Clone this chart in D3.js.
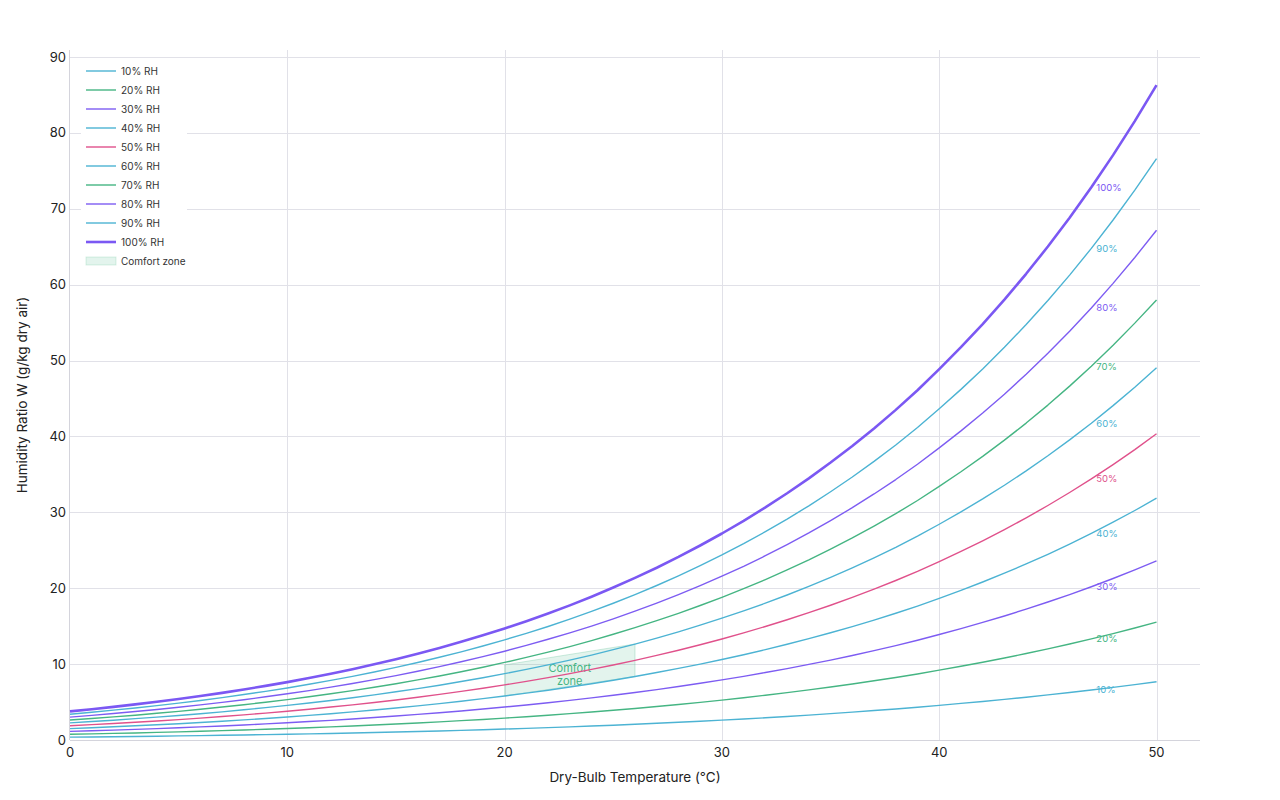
<!DOCTYPE html>
<html>
<head>
<meta charset="utf-8">
<script src="https://cdn.jsdelivr.net/npm/d3@7"></script>
<style>
  html, body { margin: 0; padding: 0; background: #fff; }
  #chart { width: 1280px; height: 800px; }
  text { font-family: Inter, "Noto Sans", sans-serif; }
  .axis-label { font-size: 13.5px; fill: #222; }
  .tick-label { font-size: 13px; fill: #222; }
</style>
</head>
<body>
<div id="chart"></div>
<script>
// Psychrometric chart: humidity ratio (g/kg) vs dry-bulb temperature, RH lines

const temps = d3.range(0, 51); // 0..50 °C, 1° steps

const rh10 = [0.38,0.40,0.43,0.47,0.50,0.54,0.57,0.62,0.66,0.71,0.75,0.81,0.86,0.92,0.98,1.05,1.12,1.19,1.27,1.35,1.44,1.53,1.63,1.73,1.84,1.95,2.07,2.20,2.33,2.47,2.62,2.77,2.93,3.10,3.28,3.47,3.67,3.88,4.09,4.32,4.56,4.82,5.08,5.35,5.64,5.94,6.26,6.59,6.93,7.29,7.67];
const rh20 = [0.75,0.81,0.87,0.93,1.00,1.07,1.15,1.23,1.32,1.41,1.51,1.62,1.73,1.84,1.97,2.10,2.24,2.39,2.55,2.71,2.88,3.07,3.26,3.47,3.69,3.92,4.16,4.41,4.68,4.96,5.26,5.57,5.90,6.24,6.60,6.98,7.38,7.80,8.24,8.70,9.20,9.71,10.24,10.80,11.39,12.00,12.65,13.32,14.02,14.76,15.53];
const rh30 = [1.13,1.21,1.30,1.40,1.50,1.61,1.73,1.85,1.98,2.12,2.27,2.43,2.59,2.77,2.96,3.16,3.37,3.59,3.83,4.08,4.34,4.62,4.91,5.22,5.55,5.89,6.26,6.64,7.05,7.47,7.92,8.39,8.89,9.41,9.96,10.53,11.14,11.77,12.44,13.14,13.90,14.67,15.49,16.34,17.24,18.18,19.16,20.19,21.28,22.41,23.60];
const rh40 = [1.50,1.62,1.74,1.87,2.00,2.15,2.31,2.47,2.65,2.83,3.03,3.24,3.46,3.70,3.95,4.22,4.50,4.80,5.11,5.45,5.80,6.17,6.56,6.98,7.42,7.88,8.37,8.89,9.43,10.00,10.61,11.24,11.91,12.61,13.35,14.13,14.94,15.80,16.70,17.65,18.67,19.72,20.82,21.98,23.20,24.47,25.81,27.22,28.70,30.24,31.86];
const rh50 = [1.88,2.02,2.17,2.34,2.51,2.69,2.88,3.09,3.31,3.54,3.79,4.06,4.34,4.63,4.95,5.28,5.63,6.01,6.40,6.82,7.26,7.73,8.22,8.75,9.30,9.88,10.50,11.15,11.83,12.55,13.31,14.11,14.96,15.84,16.78,17.76,18.79,19.87,21.02,22.22,23.51,24.85,26.25,27.72,29.27,30.90,32.61,34.40,36.29,38.27,40.35];
const rh60 = [2.26,2.43,2.61,2.81,3.01,3.23,3.46,3.71,3.98,4.26,4.56,4.87,5.21,5.57,5.95,6.35,6.77,7.22,7.70,8.20,8.74,9.30,9.90,10.53,11.19,11.90,12.64,13.43,14.25,15.13,16.05,17.01,18.03,19.11,20.24,21.43,22.68,24.00,25.39,26.86,28.43,30.06,31.77,33.57,35.46,37.45,39.54,41.74,44.06,46.49,49.05];
const rh70 = [2.64,2.84,3.05,3.27,3.52,3.77,4.05,4.34,4.65,4.97,5.32,5.69,6.09,6.50,6.95,7.42,7.92,8.44,9.00,9.59,10.22,10.88,11.58,12.31,13.10,13.93,14.80,15.72,16.69,17.72,18.80,19.94,21.14,22.41,23.74,25.15,26.62,28.18,29.82,31.56,33.42,35.35,37.38,39.51,41.76,44.13,46.63,49.25,52.02,54.93,57.99];
const rh80 = [3.02,3.24,3.49,3.75,4.02,4.32,4.63,4.96,5.31,5.69,6.09,6.51,6.97,7.44,7.95,8.49,9.06,9.67,10.31,10.99,11.70,12.46,13.27,14.11,15.01,15.97,16.97,18.03,19.15,20.33,21.58,22.89,24.28,25.74,27.28,28.91,30.61,32.42,34.32,36.33,38.49,40.73,43.09,45.57,48.19,50.95,53.86,56.93,60.17,63.58,67.17];
const rh90 = [3.40,3.65,3.93,4.22,4.53,4.86,5.21,5.59,5.99,6.41,6.86,7.34,7.85,8.39,8.96,9.57,10.21,10.90,11.62,12.39,13.20,14.06,14.96,15.92,16.94,18.02,19.16,20.36,21.63,22.97,24.38,25.87,27.45,29.11,30.86,32.71,34.65,36.71,38.88,41.17,43.64,46.20,48.90,51.74,54.75,57.92,61.26,64.78,68.52,72.45,76.60];
const rh100 = [3.77,4.06,4.36,4.69,5.03,5.40,5.80,6.21,6.66,7.13,7.63,8.16,8.73,9.33,9.97,10.65,11.37,12.13,12.94,13.79,14.70,15.66,16.67,17.74,18.88,20.09,21.36,22.70,24.12,25.63,27.21,28.88,30.65,32.51,34.48,36.56,38.74,41.06,43.50,46.09,48.87,51.76,54.81,58.03,61.43,65.02,68.82,72.83,77.07,81.55,86.29];

const rhLevels = [10, 20, 30, 40, 50, 60, 70, 80, 90, 100];
const rhValues = [rh10, rh20, rh30, rh40, rh50, rh60, rh70, rh80, rh90, rh100];
const rhColors = ["#4cb3d3", "#45b583", "#7d5cf2", "#4cb3d3", "#e0518b", "#4cb3d3", "#45b583", "#7d5cf2", "#4cb3d3", "#7b58f3"];

// comfort zone (20–26 °C)
const comfortT = [20, 26];
const comfortLow = [5.80, 8.37];
const comfortHigh = [9.9, 12.65];

const xTicks = [0, 10, 20, 30, 40, 50];
const yTicks = [0, 10, 20, 30, 40, 50, 60, 70, 80, 90];
const labelT = 47;

const margin = { top: 50, right: 80, bottom: 60, left: 70 };
const width = 1280 - margin.left - margin.right;
const height = 800 - margin.top - margin.bottom;

const svg = d3
  .select("#chart")
  .append("svg")
  .attr("width", 1280)
  .attr("height", 800);

const g = svg
  .append("g")
  .attr("transform", `translate(${margin.left},${margin.top})`);

const x = d3.scaleLinear().domain([0, 52]).range([0, width]);
const y = d3.scaleLinear().domain([0, 90.92]).range([height, 0]);

// Grid
g.append("g")
  .attr("class", "grid")
  .selectAll("line")
  .data(yTicks)
  .join("line")
  .attr("x1", 0)
  .attr("x2", width)
  .attr("y1", (d) => Math.round(y(d)) + 0.5)
  .attr("y2", (d) => Math.round(y(d)) + 0.5)
  .attr("stroke", "#e1e1e8")
  .attr("stroke-width", 1);

g.append("g")
  .attr("class", "grid")
  .selectAll("line")
  .data(xTicks.filter((d) => d > 0))
  .join("line")
  .attr("x1", (d) => Math.round(x(d)) + 0.5)
  .attr("x2", (d) => Math.round(x(d)) + 0.5)
  .attr("y1", 0)
  .attr("y2", height)
  .attr("stroke", "#e1e1e8")
  .attr("stroke-width", 1);

// Axis lines
g.append("line")
  .attr("x1", -0.5).attr("x2", -0.5)
  .attr("y1", 0).attr("y2", height)
  .attr("stroke", "#d4d4dc");
g.append("line")
  .attr("x1", 0).attr("x2", width)
  .attr("y1", height + 0.5).attr("y2", height + 0.5)
  .attr("stroke", "#d4d4dc");

// Tick labels
g.selectAll(".x-tick")
  .data(xTicks)
  .join("text")
  .attr("class", "tick-label")
  .attr("x", (d) => x(d))
  .attr("y", height + 17)
  .attr("text-anchor", "middle")
  .text((d) => d);

g.selectAll(".y-tick")
  .data(yTicks)
  .join("text")
  .attr("class", "tick-label")
  .attr("x", -4)
  .attr("y", (d) => y(d))
  .attr("dy", "0.35em")
  .attr("text-anchor", "end")
  .text((d) => d);

// Comfort zone
const comfortData = comfortT.map((t, i) => ({ t, lo: comfortLow[i], hi: comfortHigh[i] }));
g.append("path")
  .datum(comfortData)
  .attr("fill", "#45b583")
  .attr("fill-opacity", 0.15)
  .attr("stroke", "#45b583")
  .attr("stroke-opacity", 0.25)
  .attr("stroke-width", 1)
  .attr(
    "d",
    d3.area()
      .x((d) => x(d.t))
      .y0((d) => y(d.lo))
      .y1((d) => y(d.hi))
  );

const comfortMidT = d3.mean(comfortT);
const comfortMidW = (d3.mean(comfortLow) + d3.mean(comfortHigh)) / 2;
const comfortLabel = g.append("text")
  .attr("x", x(comfortMidT))
  .attr("y", y(comfortMidW))
  .attr("text-anchor", "middle")
  .attr("fill", "#45b583")
  .attr("font-size", "11px");
comfortLabel.append("tspan").attr("x", x(comfortMidT)).attr("dy", "0.12em").text("Comfort");
comfortLabel.append("tspan").attr("x", x(comfortMidT)).attr("dy", "1.25em").text("zone");

// RH lines
const line = d3.line()
  .x((d, i) => x(temps[i]))
  .y((d) => y(d));

rhLevels.forEach((rh, k) => {
  g.append("path")
    .datum(rhValues[k])
    .attr("fill", "none")
    .attr("stroke", rhColors[k])
    .attr("stroke-width", rh === 100 ? 2.6 : 1.4)
    .attr("stroke-linejoin", "round")
    .attr("d", line);

  const idx = temps.indexOf(labelT);
  g.append("text")
    .attr("x", x(labelT) + 5)
    .attr("y", y(rhValues[k][idx]))
    .attr("dy", "0.35em")
    .attr("fill", rhColors[k])
    .attr("font-size", "9.5px")
    .text(`${rh}%`);
});

// Legend
const legend = g.append("g").attr("transform", "translate(11, 10)");
legend.append("rect")
  .attr("x", 0)
  .attr("y", 0)
  .attr("width", 106)
  .attr("height", 212)
  .attr("fill", "#fff");

const legendItems = rhLevels.map((rh, k) => ({ label: `${rh}% RH`, color: rhColors[k], w: rh === 100 ? 2.6 : 1.4 }));
legendItems.forEach((d, i) => {
  const ly = 11 + i * 19;
  legend.append("line")
    .attr("x1", 5).attr("x2", 35)
    .attr("y1", ly).attr("y2", ly)
    .attr("stroke", d.color)
    .attr("stroke-width", d.w);
  legend.append("text")
    .attr("x", 40)
    .attr("y", ly)
    .attr("dy", "0.35em")
    .attr("font-size", "10px")
    .attr("fill", "#333")
    .text(d.label);
});
const cy = 11 + 10 * 19;
legend.append("rect")
  .attr("x", 5).attr("y", cy - 4)
  .attr("width", 30).attr("height", 8)
  .attr("fill", "#45b583")
  .attr("fill-opacity", 0.15)
  .attr("stroke", "#45b583")
  .attr("stroke-opacity", 0.2);
legend.append("text")
  .attr("x", 40)
  .attr("y", cy)
  .attr("dy", "0.35em")
  .attr("font-size", "10px")
  .attr("fill", "#333")
  .text("Comfort zone");

// Axis titles
svg.append("text")
  .attr("class", "axis-label")
  .attr("x", margin.left + width / 2)
  .attr("y", 782)
  .attr("text-anchor", "middle")
  .text("Dry-Bulb Temperature (°C)");

svg.append("text")
  .attr("class", "axis-label")
  .attr("transform", "rotate(-90)")
  .attr("x", -(margin.top + height / 2))
  .attr("y", 27)
  .attr("text-anchor", "middle")
  .text("Humidity Ratio W (g/kg dry air)");
</script>
</body>
</html>
